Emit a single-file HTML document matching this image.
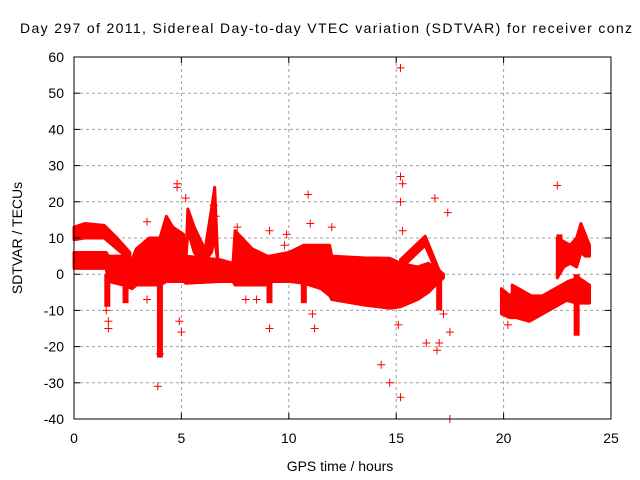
<!DOCTYPE html>
<html><head><meta charset="utf-8"><style>
body{margin:0;background:#fff;}
svg{display:block;font-family:"Liberation Sans",sans-serif;}
</style></head><body>
<svg id="chart" width="640" height="480" xmlns="http://www.w3.org/2000/svg">
<rect width="640" height="480" fill="#fff"/>
<text x="326" y="33" text-anchor="middle" font-size="14" textLength="612">Day 297 of 2011, Sidereal Day-to-day VTEC variation (SDTVAR) for receiver conz</text>
<text x="340" y="471" text-anchor="middle" font-size="14">GPS time / hours</text>
<text transform="translate(22,238) rotate(-90)" text-anchor="middle" font-size="14">SDTVAR / TECUs</text>
<g id="grid"></g><g id="marks"></g><g id="axes"></g>
</svg>
<script>
const xTicks=[0,5,10,15,20,25];
const yTicks=[-40,-30,-20,-10,0,10,20,30,40,50,60];
// main band
const mainT=[0,1.5,1.6,2.3,2.7,2.9,3.5,4.0,4.3,4.6,5.1,5.2,6.8,7.4,7.5,8.3,9.0,9.1,10.0,10.7,11.5,11.9,12.0,13.5,14.7,15.2,16.0,16.5,17.0,17.2];
const mainHi=[6,6,5,5,4,7,10,10,16,13,11,5,4,3,12,7,5,5,6,8,8,8,5,4.5,4.4,3,2,3,1,0];
const mainLo=[1.6,1.6,-2,-3,-4,-3,-3,-3,-2,-2,-2,-2.5,-2,-2,-3,-3,-3,-2,-2,-2.5,-4,-5.9,-7,-8.5,-9.4,-9,-7,-5,-2,-1];
// upper early band
const upT=[0,0.5,1.4,2,2.6];
const upHi=[13,14,13.5,10,6];
const upLo=[9.5,10,10,7,4];
// spike near 5.3
const s1T=[5.2,5.3,5.6,6.0,6.2];
const s1Hi=[3,18,13,8,3];
const s1Lo=[3,12,6,3,3];
// spike near 6.4
const s2T=[6.0,6.4,6.55,6.7];
const s2Hi=[3,18,24,3];
const s2Lo=[3,6,10,3];
// loop arm near 16
const armT=[15.2,16.35,17.0];
const armHi=[4,10.5,1];
const armLo=[1.5,8,-1];
// right lower waves
const r1T=[19.9,20.3,20.6,21.2,21.8,22.4,23,23.5,24];
const r1Hi=[-4,-6,-4,-6,-6,-4,-2,-1,-3];
const r1Lo=[-11,-12,-12,-13,-11,-9,-7,-7,-7];
const r2T=[20.4,21,21.6,22.2,22.8,23.4,24];
const r2Hi=[-3,-5,-7,-6,-5,-5,-6];
const r2Lo=[-6,-8,-9,-8,-7,-8,-8];
// right upper cluster
const r3T=[22.5,22.8,23.1,23.4,23.6,23.8,24];
const r3Hi=[10,9,8,10,14,11,8];
const r3Lo=[-1,2,3,2,6,5,5];
// narrow vertical spikes
const spikeT=[1.55,2.4,4.0,9.1,10.7,15.0,17.0,23.4,22.6];
const spikeFrom=[0,-2,-2,-2,-2,0,0,0,3];
const spikeTo=[-9,-8,-23,-8,-8,-9,-10,-17,11];
// outliers
const outT=[1.6,1.6,3.4,3.4,3.9,4.8,4.8,4.9,5.0,5.2,6.5,6.6,7.6,8,8.5,9.1,9.1,9.9,9.8,10.9,11.0,11.1,11.2,12,14.3,14.7,15.2,15.2,15.3,15.2,15.1,15.2,16.8,17.0,17.4,17.5,17.5,16.9,20.2,22.5,16.4,17.2,4.0,1.5,15.3];
const outV=[-13,-15,14.5,-7,-31,25,24,-13,-16,21,19,16,13,-7,-7,12,-15,11,8,22,14,-11,-15,13,-25,-30,57,27,25,20,-14,-34,21,-19,17,-16,-40,-21,-14,24.5,-19,-11,-22,-10,12];

const X0=74,X1=611,Y0=419,Y1=57;
const xs=t=>X0+(t/25)*(X1-X0);
const ys=v=>Y0-((v+40)/100)*(Y0-Y1);
const NS="http://www.w3.org/2000/svg";
function mk(tag,attrs,parent){const e=document.createElementNS(NS,tag);for(const k in attrs)e.setAttribute(k,attrs[k]);parent.appendChild(e);return e;}
const grid=document.getElementById('grid'),marks=document.getElementById('marks'),axes=document.getElementById('axes');
xTicks.forEach(t=>{
  const x=xs(t);
  if(t>0&&t<25){const g=mk('line',{x1:x,x2:x,y1:Y1,y2:Y0,stroke:'#a0a0a0','stroke-dasharray':'3,3'},grid);
  
  }
  const tk=mk('line',{x1:x,x2:x,y1:Y0,y2:Y0-6,stroke:'#000'},axes);
  
  
  const tk2=mk('line',{x1:x,x2:x,y1:Y1,y2:Y1+6,stroke:'#000'},axes);
  
  
  const l=mk('text',{x:x,y:Y0+24,'text-anchor':'middle','font-size':'14'},axes);l.textContent=t;
  
  
});
yTicks.forEach(v=>{
  const y=ys(v);
  if(v>-40&&v<60){const g=mk('line',{x1:X0,x2:X1,y1:y,y2:y,stroke:'#a0a0a0','stroke-dasharray':'3,3'},grid);
  
  }
  const tk=mk('line',{x1:X0,x2:X0+6,y1:y,y2:y,stroke:'#000'},axes);
  
  
  const tk2=mk('line',{x1:X1,x2:X1-6,y1:y,y2:y,stroke:'#000'},axes);
  
  
  const l=mk('text',{x:X0-10,y:y+5,'text-anchor':'end','font-size':'14'},axes);l.textContent=v;
  
  
});
const fr=mk('rect',{x:X0,y:Y1,width:X1-X0,height:Y0-Y1,fill:'none',stroke:'#000'},axes);


function band(T,H,L,name){
  let pts=T.map((t,i)=>xs(t)+','+ys(H[i]));
  for(let i=T.length-1;i>=0;i--)pts.push(xs(T[i])+','+ys(L[i]));
  const p=mk('polygon',{points:pts.join(' '),fill:'#f00',stroke:'#f00','stroke-width':'3','stroke-linejoin':'round'},marks);
  
  
}
band(mainT,mainHi,mainLo,'main-band');
band(upT,upHi,upLo,'upper-early-band');
band(s1T,s1Hi,s1Lo,'spike-band-1');
band(s2T,s2Hi,s2Lo,'spike-band-2');
band(armT,armHi,armLo,'loop-arm-band');
band(r1T,r1Hi,r1Lo,'right-lower-band');
band(r2T,r2Hi,r2Lo,'right-wave-band');
band(r3T,r3Hi,r3Lo,'right-upper-band');
spikeT.forEach((t,i)=>{
  const y1=ys(spikeFrom[i]),y2=ys(spikeTo[i]);
  const r=mk('rect',{x:xs(t)-3,y:Math.min(y1,y2),width:6,height:Math.abs(y2-y1),fill:'#f00'},marks);
  
  
});
outT.forEach((t,i)=>{
  const x=xs(t),y=ys(outV[i]);
  const p=mk('path',{d:`M${x-4},${y}H${x+4}M${x},${y-4}V${y+4}`,stroke:'#f00','stroke-width':'1'},marks);
  
  
});
</script>
</body></html>
